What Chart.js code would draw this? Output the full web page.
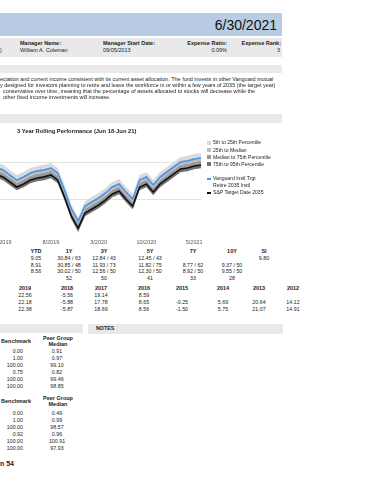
<!DOCTYPE html>
<html>
<head>
<meta charset="utf-8">
<script src="https://cdn.jsdelivr.net/npm/chart.js@4.4.1/dist/chart.umd.min.js"></script>
<style>
  html, body { margin: 0; padding: 0; background: #fff; }
  body { width: 370px; height: 480px; overflow: hidden; position: relative; font-family: "Liberation Sans", Arial, sans-serif; color: #222; }
  .bar { position: absolute; background: #e9e9e9; }
  .t { position: absolute; white-space: nowrap; line-height: 1; }
  #chartBox { position: absolute; left: -34px; top: 125px; width: 238px; height: 123px; }
  .sw { position: absolute; width: 4px; height: 4px; }
</style>
</head>
<body>
<div class="bar" style="left:0;top:13px;width:282px;height:23px;background:#b8cce4"></div>
<div class="bar" style="left:0;top:38px;width:282px;height:19px"></div>
<div class="bar" style="left:0;top:65px;width:282px;height:8px"></div>
<div class="bar" style="left:0;top:114px;width:282px;height:9px"></div>
<div class="bar" style="left:0;top:324px;width:83px;height:9px"></div>
<div class="bar" style="left:88px;top:324px;width:195px;height:10px"></div>

<div id="chartBox"><canvas id="rolling"></canvas></div>
<div id="texts"></div>

<script>
// 3 year rolling returns, monthly, 8/2018 - 6/2021
const months = ['8/2018', '9/2018', '10/2018', '11/2018', '12/2018',
  '1/2019', '2/2019', '3/2019', '4/2019', '5/2019', '6/2019', '7/2019', '8/2019', '9/2019', '10/2019', '11/2019', '12/2019',
  '1/2020', '2/2020', '3/2020', '4/2020', '5/2020', '6/2020', '7/2020', '8/2020', '9/2020', '10/2020', '11/2020', '12/2020',
  '1/2021', '2/2021', '3/2021', '4/2021', '5/2021', '6/2021'];
const tickLabels = ['1/2019', '8/2019', '3/2020', '10/2020', '5/2021'];

// peer group percentiles
const p5 = [12.85, 12.65, 12.45, 12.15, 11.95, 11.69, 11.14, 10.60, 10.93, 11.36, 11.58, 11.69, 11.90, 11.36, 9.52, 7.40, 6.05, 7.75, 8.23, 8.66, 9.20, 9.85, 10.17, 9.31, 8.55, 10.60, 10.93, 10.06, 10.93, 11.47, 12.01, 12.55, 12.66, 12.87, 12.98];
const p25 = [12.45, 12.25, 12.05, 11.75, 11.55, 11.29, 10.74, 10.20, 10.53, 10.96, 11.18, 11.29, 11.50, 10.96, 9.12, 7.05, 5.74, 7.39, 7.83, 8.26, 8.80, 9.45, 9.77, 8.91, 8.15, 10.20, 10.53, 9.66, 10.53, 11.07, 11.61, 12.15, 12.26, 12.47, 12.58];
const median = [12.00, 11.80, 11.60, 11.30, 11.10, 10.84, 10.29, 9.75, 10.08, 10.51, 10.73, 10.84, 11.05, 10.51, 8.67, 6.62, 5.34, 6.94, 7.38, 7.81, 8.35, 9.00, 9.32, 8.46, 7.70, 9.75, 10.08, 9.21, 10.08, 10.62, 11.16, 11.70, 11.81, 12.02, 12.13];
const p75 = [11.62, 11.42, 11.22, 10.92, 10.72, 10.46, 9.91, 9.37, 9.70, 10.13, 10.35, 10.46, 10.67, 10.13, 8.29, 6.24, 4.96, 6.56, 7.00, 7.43, 7.97, 8.62, 8.94, 8.08, 7.32, 9.37, 9.70, 8.83, 9.70, 10.24, 10.78, 11.32, 11.43, 11.64, 11.75];
const p95 = [11.20, 11.00, 10.80, 10.50, 10.30, 10.04, 9.49, 8.95, 9.28, 9.71, 9.93, 10.04, 10.25, 9.71, 7.87, 5.82, 4.42, 6.14, 6.58, 7.01, 7.55, 8.20, 8.52, 7.66, 6.90, 8.95, 9.28, 8.41, 9.28, 9.82, 10.36, 10.90, 11.01, 11.22, 11.33];

const fund = [12.30, 12.10, 11.90, 11.60, 11.40, 11.14, 10.59, 10.05, 10.38, 10.81, 11.03, 11.14, 11.35, 10.81, 8.97, 6.92, 5.62, 7.24, 7.68, 8.11, 8.65, 9.30, 9.62, 8.76, 8.00, 10.05, 10.38, 9.51, 10.38, 10.92, 11.46, 12.00, 12.11, 12.32, 12.43];
const benchmark = [11.55, 11.35, 11.15, 10.85, 10.65, 10.39, 9.84, 9.30, 9.63, 10.06, 10.28, 10.39, 10.60, 10.06, 8.20, 6.15, 4.86, 6.48, 6.92, 7.35, 7.90, 8.55, 8.87, 8.00, 7.25, 9.30, 9.63, 8.76, 9.63, 10.17, 10.71, 11.25, 11.36, 11.57, 11.68];

const bandLabels = ['5th to 25th Percentile', '25th to Median', 'Median to 75th Percentile', '75th to 95th Percentile'];
const bandColors = ['#dadada', '#bdbdbd', '#9a9a9a', '#727272'];

// trailing performance table
const perfHeads = ['YTD', '1Y', '3Y', '5Y', '7Y', '10Y', 'SI'];
const perfRows = [
  ['9.05', '30.84 / 63', '12.84 / 43', '12.45 / 43', '', '', '9.80'],
  ['8.91', '30.85 / 48', '11.93 / 73', '11.82 / 75', '8.77 / 62', '9.37 / 50', ''],
  ['8.56', '30.02 / 50', '12.56 / 50', '12.30 / 50', '8.92 / 50', '9.55 / 50', ''],
  ['', '52', '50', '41', '33', '28', '']
];
const yearHeads = ['2019', '2018', '2017', '2016', '2015', '2014', '2013', '2012'];
const yearRows = [
  ['22.56', '-5.56', '19.14', '8.59', '', '', '', ''],
  ['22.18', '-5.88', '17.78', '8.65', '-0.25', '5.69', '20.64', '14.12'],
  ['22.38', '-5.87', '18.69', '8.56', '-1.50', '5.75', '21.07', '14.91']
];
const riskBench1 = ['0.00', '1.00', '100.00', '0.75', '100.00', '100.00'];
const riskPeer1 = ['0.91', '0.97', '99.10', '0.82', '99.46', '98.85'];
const riskBench2 = ['0.00', '1.00', '100.00', '0.92', '100.00', '100.00'];
const riskPeer2 = ['0.49', '0.99', '98.57', '0.96', '100.91', '97.93'];

const paragraph = [
  'eciation and current income consistent with its current asset allocation. The fund invests in other Vanguard mutual',
  'y designed for investors planning to retire and leave the workforce in or within a few years of 2035 (the target year)',
  ' conservative over time, meaning that the percentage of assets allocated to stocks will decrease while the',
  'other fixed income investments will increase.'
];

// text helper: x anchor, y = vertical centre
const box = document.getElementById('texts');
function txt(x, y, s, size, align, bold, color) {
  const d = document.createElement('div');
  d.className = 't';
  d.textContent = s;
  d.style.fontSize = size + 'px';
  d.style.top = (y - size / 2) + 'px';
  d.style.left = x + 'px';
  if (bold) d.style.fontWeight = 'bold';
  if (color) d.style.color = color;
  if (align === 'center') d.style.transform = 'translateX(-50%)';
  if (align === 'right') d.style.transform = 'translateX(-100%)';
  box.appendChild(d);
  return d;
}

txt(277, 24.5, '6/30/2021', 14, 'right', false, '#111');
txt(0, 50.5, ')', 5.5);
txt(20, 43.5, 'Manager Name:', 5.5, 'left', true);
txt(20, 50.5, 'William A. Coleman', 5.5);
txt(103, 43.5, 'Manager Start Date:', 5.5, 'left', true);
txt(103, 50.5, '09/05/2013', 5.5);
txt(227, 43.5, 'Expense Ratio:', 5.5, 'right', true);
txt(227, 50.5, '0.09%', 5.5, 'right');
txt(281, 43.5, 'Expense Rank:', 5.5, 'right', true);
txt(280, 50.5, '3', 5.5, 'right');

paragraph.forEach((line, i) => txt(i < 2 ? 0 : 3, 80 + i * 5.8, line, 5.45));

txt(17, 131.5, '3 Year Rolling Performance (Jun 18-Jun 21)', 5.8, 'left', true);

// legend
bandLabels.forEach((lab, i) => {
  const y = 143 + i * 7.1;
  const s = document.createElement('div');
  s.className = 'sw';
  s.style.left = '207px';
  s.style.top = (y - 2) + 'px';
  s.style.background = bandColors[i];
  box.appendChild(s);
  txt(213, y, lab, 5.1);
});
[['#4a94ea', 179, ['Vanguard Instl Trgt', 'Retire 2035 Instl']], ['#111', 193, ['S&P Target Date 2035']]].forEach(([c, y, lines]) => {
  const s = document.createElement('div');
  s.className = 'sw';
  s.style.left = '207px';
  s.style.top = (y - 1) + 'px';
  s.style.height = '2px';
  s.style.background = c;
  box.appendChild(s);
  lines.forEach((l, k) => txt(213, y + k * 6.5, l, 5.1));
});

// tables
const perfX = [36, 69, 104, 150, 193, 232, 264];
perfHeads.forEach((h, i) => txt(perfX[i], 252, h, 5.5, 'center', true));
perfRows.forEach((row, r) => row.forEach((v, i) => { if (v) txt(perfX[i], 258.5 + r * 6.8, v, 5.3, 'center'); }));

const yearX = [25, 67, 101, 144, 182, 223, 259, 293];
yearHeads.forEach((h, i) => txt(yearX[i], 289, h, 5.5, 'center', true));
yearRows.forEach((row, r) => row.forEach((v, i) => { if (v) txt(yearX[i], 296 + r * 7, v, 5.3, 'center'); }));

txt(96, 329, 'NOTES', 5.3, 'left', true);

[[342, 352, riskBench1, riskPeer1], [402, 414, riskBench2, riskPeer2]].forEach(([hy, ry, bench, peer]) => {
  txt(16, hy, 'Benchmark', 5.5, 'center', true);
  txt(58, hy - 3, 'Peer Group', 5.5, 'center', true);
  txt(58, hy + 3, 'Median', 5.5, 'center', true);
  bench.forEach((v, i) => txt(23, ry + i * 7, v, 5.3, 'right'));
  peer.forEach((v, i) => txt(57, ry + i * 7, v, 5.3, 'center'));
});

txt(0, 463, 'n 54', 7, 'left', true);

// chart
const ctx = document.getElementById('rolling').getContext('2d');

const band = (data, color) => ({
  data: data,
  borderWidth: 0,
  pointRadius: 0,
  backgroundColor: color,
  fill: '-1',
  order: 2,
});

new Chart(ctx, {
  type: 'line',
  data: {
    labels: months,
    datasets: [
      { data: p5, borderWidth: 0, pointRadius: 0, fill: false, order: 2 },
      band(p25, bandColors[0]),
      band(median, bandColors[1]),
      band(p75, bandColors[2]),
      band(p95, bandColors[3]),
      { label: 'Vanguard Instl Trgt Retire 2035 Instl', data: fund, borderColor: '#4a94ea', borderWidth: 1.6, pointRadius: 0, fill: false, order: 0 },
      { label: 'S&P Target Date 2035', data: benchmark, borderColor: '#111', borderWidth: 1.6, pointRadius: 0, fill: false, order: 1 },
    ],
  },
  options: {
    responsive: true,
    maintainAspectRatio: false,
    animation: false,
    layout: { padding: 0 },
    plugins: {
      legend: { display: false },
      tooltip: { enabled: false },
    },
    scales: {
      x: {
        grid: { display: false, drawTicks: false },
        border: { display: false },
        ticks: {
          autoSkip: false,
          maxRotation: 0,
          padding: 3,
          color: '#555',
          font: { size: 5.5, family: 'Liberation Sans' },
          callback: (v, i) => (tickLabels.includes(months[i]) ? months[i] : ''),
        },
        afterFit: (axis) => { axis.height = 12; },
      },
      y: {
        min: 4,
        max: 16,
        ticks: { display: false, stepSize: 4 },
        grid: {
          drawTicks: false,
          color: (c) => (c.tick && (c.tick.value === 8 || c.tick.value === 12) ? '#e2e2e2' : 'rgba(0,0,0,0)'),
        },
        border: { display: false },
        afterFit: (axis) => { axis.width = 0; },
      },
    },
  },
});
</script>
</body>
</html>
